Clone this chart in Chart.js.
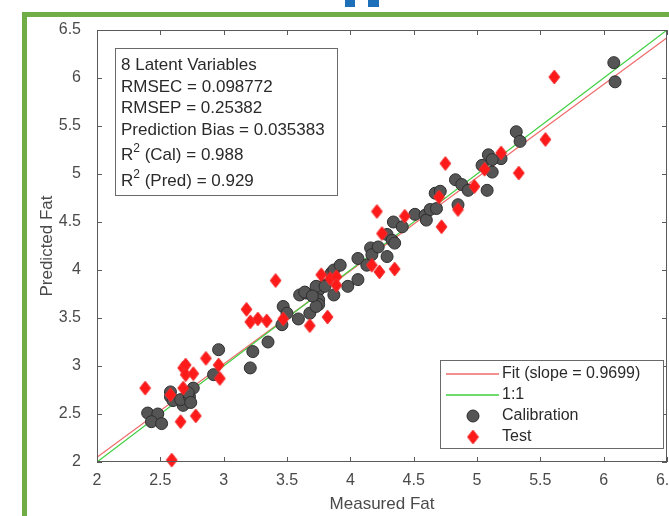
<!DOCTYPE html>
<html>
<head>
<meta charset="utf-8">
<script src="https://cdn.jsdelivr.net/npm/chart.js@4"></script>
<style>
  html, body { margin: 0; padding: 0; background: #fff; overflow: hidden; }
  #wrap { width: 669px; height: 516px; overflow: hidden; }
</style>
</head>
<body>
<div id="wrap"><canvas id="fatChart" width="700" height="516"></canvas></div>
<script>
// measured vs predicted fat, calibration set
const calibration = [
  [2.40, 2.51], [2.48, 2.50], [2.43, 2.42], [2.51, 2.40], [2.58, 2.73], [2.58, 2.68],
  [2.60, 2.64], [2.68, 2.59], [2.66, 2.65], [2.73, 2.68], [2.76, 2.77], [2.72, 2.72],
  [2.74, 2.62], [2.92, 2.91], [2.96, 3.17], [3.21, 2.98], [3.23, 3.15], [3.35, 3.25],
  [3.47, 3.62], [3.50, 3.55], [3.46, 3.43], [3.59, 3.49], [3.60, 3.74], [3.65, 3.76],
  [3.68, 3.55], [3.75, 3.79], [3.75, 3.69], [3.75, 3.64], [3.79, 3.84], [3.87, 3.74],
  [3.85, 3.97], [3.64, 3.77], [3.73, 3.83], [3.73, 3.62], [3.80, 3.83], [3.70, 3.73],
  [3.87, 4.00], [3.92, 4.05], [3.98, 3.83], [4.06, 3.90], [4.06, 4.12], [4.13, 4.05],
  [4.16, 4.23], [4.17, 4.16], [4.22, 4.24], [4.29, 4.37], [4.29, 4.14], [4.33, 4.31],
  [4.35, 4.28], [4.34, 4.50], [4.41, 4.45], [4.51, 4.58], [4.59, 4.57], [4.60, 4.52],
  [4.63, 4.63], [4.68, 4.64], [4.67, 4.80], [4.71, 4.82], [4.83, 4.94], [4.85, 4.68],
  [4.88, 4.89], [4.93, 4.83], [5.04, 5.09], [5.08, 4.83], [5.09, 5.20], [5.12, 5.02],
  [5.19, 5.16], [5.12, 5.15], [5.31, 5.44], [5.34, 5.34], [6.08, 6.16], [6.09, 5.96]
];

// test set
const test = [
  [2.38, 2.77], [2.58, 2.70], [2.66, 2.42], [2.59, 2.02], [2.68, 2.98], [2.70, 3.01],
  [2.70, 2.91], [2.76, 2.92], [2.68, 2.77], [2.78, 2.48], [2.86, 3.08], [2.96, 3.01],
  [2.97, 2.87], [3.18, 3.59], [3.21, 3.46], [3.27, 3.49], [3.34, 3.47], [3.41, 3.89],
  [3.47, 3.49], [3.68, 3.42], [3.82, 3.51], [3.77, 3.95], [3.84, 3.91], [3.89, 3.93],
  [3.89, 3.84], [4.17, 4.05], [4.23, 3.98], [4.35, 4.01], [4.25, 4.38], [4.21, 4.61],
  [4.43, 4.56], [4.70, 4.76], [4.72, 4.45], [4.85, 4.63], [4.98, 4.87], [5.06, 5.05],
  [4.75, 5.11], [5.33, 5.01], [5.19, 5.22], [5.61, 6.01], [5.54, 5.36]
];

const fitLine = [[2, 2.05], [6.5, 6.42]];
const identityLine = [[2, 2], [6.5, 6.5]];

const xTicks = [2, 2.5, 3, 3.5, 4, 4.5, 5, 5.5, 6, 6.5];
const yTicks = [2, 2.5, 3, 3.5, 4, 4.5, 5, 5.5, 6, 6.5];

const statsLines = [
  '8 Latent Variables',
  'RMSEC = 0.098772',
  'RMSEP = 0.25382',
  'Prediction Bias = 0.035383',
  ['R', '2', ' (Cal) = 0.988'],
  ['R', '2', ' (Pred) = 0.929']
];

const FONT = "'Liberation Sans', Arial, sans-serif";
Chart.defaults.font.family = FONT;

const toPts = arr => arr.map(p => ({ x: p[0], y: p[1] }));

// red diamond marker, a bit taller than wide
function makeDiamond(w, h, fill, stroke) {
  const c = document.createElement('canvas');
  c.width = w + 2; c.height = h + 2;
  const g = c.getContext('2d');
  g.beginPath();
  g.moveTo(c.width / 2, 1);
  g.lineTo(c.width - 1, c.height / 2);
  g.lineTo(c.width / 2, c.height - 1);
  g.lineTo(1, c.height / 2);
  g.closePath();
  g.fillStyle = fill; g.fill();
  g.strokeStyle = stroke; g.lineWidth = 1; g.stroke();
  return c;
}
const diamond = makeDiamond(11, 14, '#ff1a1a', '#f23030');

// white page, green frame and box/ticks/annotation drawing
const framePlugin = {
  id: 'frame',
  beforeDraw(chart) {
    const ctx = chart.ctx;
    ctx.save();
    ctx.fillStyle = '#fff';
    ctx.fillRect(0, 0, chart.width, chart.height);
    ctx.fillStyle = '#70ad47';
    ctx.fillRect(22, 12, chart.width, 5);
    ctx.fillRect(22, 12, 5, chart.height);
    ctx.fillStyle = '#1c6fb8';
    ctx.fillRect(345, 0, 10, 7);
    ctx.fillRect(368, 0, 11, 7);
    ctx.restore();
  },
  afterDatasetsDraw(chart) {
    const { ctx, chartArea: a, scales: { x, y } } = chart;
    ctx.save();
    ctx.strokeStyle = '#5a5a5a';
    ctx.lineWidth = 1;
    ctx.strokeRect(a.left + 0.5, a.top + 0.5, a.right - a.left - 1, a.bottom - a.top - 1);
    ctx.beginPath();
    x.ticks.forEach(t => {
      const px = Math.round(x.getPixelForValue(t.value)) + 0.5;
      ctx.moveTo(px, a.bottom); ctx.lineTo(px, a.bottom - 5);
      ctx.moveTo(px, a.top); ctx.lineTo(px, a.top + 5);
    });
    y.ticks.forEach(t => {
      const py = Math.round(y.getPixelForValue(t.value)) + 0.5;
      ctx.moveTo(a.left, py); ctx.lineTo(a.left + 5, py);
      ctx.moveTo(a.right, py); ctx.lineTo(a.right - 5, py);
    });
    ctx.stroke();

    // stats box
    ctx.fillStyle = '#fff';
    ctx.fillRect(115, 48, 222, 147);
    ctx.strokeStyle = '#6a6a6a';
    ctx.strokeRect(115.5, 48.5, 222, 147);
    ctx.fillStyle = '#2a2a2a';
    ctx.textBaseline = 'middle';
    ctx.textAlign = 'left';
    const rowY = [65, 87, 108, 130, 155, 181];
    statsLines.forEach((line, i) => {
      ctx.font = '17px ' + FONT;
      if (typeof line === 'string') {
        ctx.fillText(line, 121, rowY[i]);
      } else {
        ctx.fillText(line[0], 121, rowY[i]);
        let cx = 121 + ctx.measureText(line[0]).width;
        ctx.font = '12px ' + FONT;
        ctx.fillText(line[1], cx, rowY[i] - 6);
        cx += ctx.measureText(line[1]).width;
        ctx.font = '17px ' + FONT;
        ctx.fillText(line[2], cx, rowY[i]);
      }
    });

    // legend box
    ctx.fillStyle = '#fff';
    ctx.fillRect(440, 360, 223, 88);
    ctx.strokeStyle = '#6a6a6a';
    ctx.strokeRect(440.5, 360.5, 223, 88);
    const rows = [374, 395, 416, 437];
    chart.data.datasets.forEach((ds, i) => {
      const ry = rows[i];
      if (ds.type === 'line') {
        ctx.strokeStyle = ds.borderColor;
        ctx.lineWidth = 1.5;
        ctx.beginPath();
        ctx.moveTo(446, ry); ctx.lineTo(499, ry);
        ctx.stroke();
      } else if (ds.pointStyle === 'circle') {
        ctx.beginPath();
        ctx.arc(473, ry, ds.pointRadius, 0, Math.PI * 2);
        ctx.fillStyle = ds.backgroundColor; ctx.fill();
        ctx.strokeStyle = ds.borderColor; ctx.lineWidth = 1; ctx.stroke();
      } else {
        ctx.drawImage(ds.pointStyle, 473 - ds.pointStyle.width / 2, ry - ds.pointStyle.height / 2);
      }
      ctx.fillStyle = '#2a2a2a';
      ctx.font = '16px ' + FONT;
      ctx.fillText(ds.label, 502, ry);
    });
    ctx.restore();
  }
};

const setTicks = list => scale => { scale.ticks = list.map(v => ({ value: v })); };
const plainLabel = v => String(v);

new Chart(document.getElementById('fatChart'), {
  type: 'scatter',
  data: {
    datasets: [
      {
        type: 'line', label: 'Fit (slope = 0.9699)', data: toPts(fitLine),
        borderColor: '#f06a6a', borderWidth: 1.2, pointRadius: 0, order: 3
      },
      {
        type: 'line', label: '1:1', data: toPts(identityLine),
        borderColor: '#3fcf3f', borderWidth: 1.2, pointRadius: 0, order: 2
      },
      {
        label: 'Calibration', data: toPts(calibration), pointStyle: 'circle',
        pointRadius: 6, backgroundColor: '#555555', borderColor: '#2e2e2e',
        borderWidth: 1, order: 1, clip: false
      },
      {
        label: 'Test', data: toPts(test), pointStyle: diamond,
        pointRadius: 6, order: 0, clip: false
      }
    ]
  },
  options: {
    responsive: false,
    animation: false,
    layout: { padding: { left: 0, top: 30, right: 33, bottom: 0 } },
    plugins: { legend: { display: false }, tooltip: { enabled: false } },
    scales: {
      x: {
        type: 'linear', min: 2, max: 6.5,
        afterBuildTicks: setTicks(xTicks),
        afterFit: s => { s.height = 54; },
        grid: { display: false, drawTicks: false },
        border: { display: false },
        ticks: { color: '#4a4a4a', font: { size: 16 }, padding: 9, maxRotation: 0, callback: plainLabel },
        title: {
          display: true, text: 'Measured Fat', color: '#4a4a4a',
          font: { size: 17 }, padding: { top: 0, bottom: 1 }
        }
      },
      y: {
        type: 'linear', min: 2, max: 6.5,
        afterBuildTicks: setTicks(yTicks),
        afterFit: s => { s.width = 97; },
        grid: { display: false, drawTicks: false },
        border: { display: false },
        ticks: { color: '#4a4a4a', font: { size: 16 }, padding: 16, callback: plainLabel },
        title: {
          display: true, text: 'Predicted Fat', color: '#4a4a4a',
          font: { size: 17 }, padding: { top: 37, bottom: 0 }
        }
      }
    }
  },
  plugins: [framePlugin]
});
</script>
</body>
</html>
